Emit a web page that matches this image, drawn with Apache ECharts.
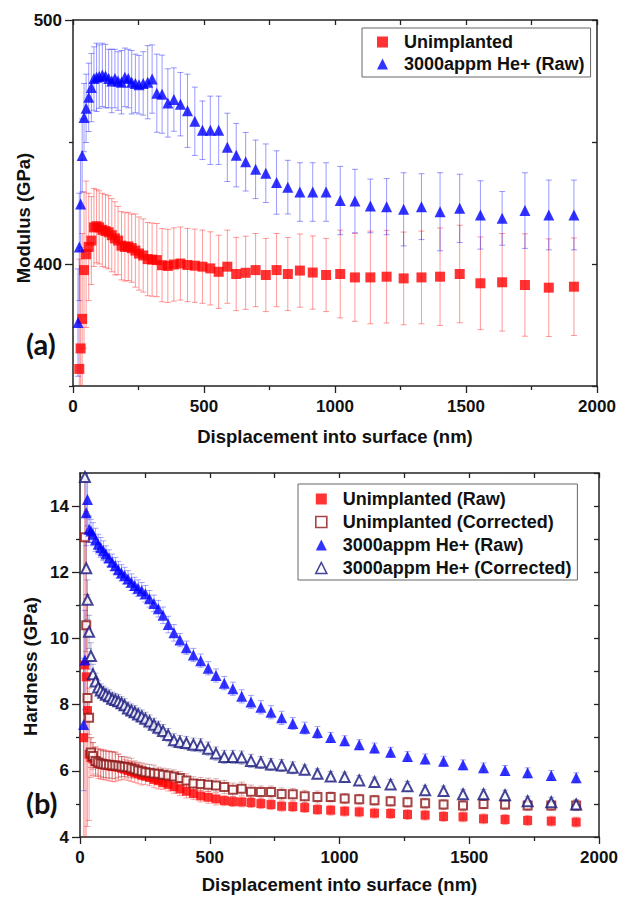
<!DOCTYPE html>
<html>
<head>
<meta charset="utf-8">
<script src="https://cdn.jsdelivr.net/npm/echarts@6/dist/echarts.min.js"></script>
<style>
  html, body { margin: 0; padding: 0; background: #fff; }
  #chart { width: 630px; height: 897px; }
</style>
</head>
<body>
<div id="chart"></div>
<script>
  // depth grid (nm), shared by every series
  var depth = [14, 19, 24, 29, 35, 42, 50, 60, 70, 80,
    90, 100, 112, 124, 136, 148, 160, 172, 185, 198,
    211, 224, 238, 252, 268, 285, 302, 320, 340, 362,
    385, 410, 437, 465, 494, 524, 556, 589, 623, 659,
    697, 736, 777, 820, 866, 915, 966, 1020, 1076, 1135,
    1197, 1262, 1330, 1401, 1476, 1555, 1638, 1725, 1816, 1912];

  // (a) modulus, GPa
  var modUnimp = [null, null, 357, 365.4, 377.5, 397.5, 404, 407, 409.6, 415,
    415.5, 415, 414, 413.5, 413, 411.8, 410.5, 409.6, 407.5, 407,
    407.2, 406.5, 405.5, 404.3, 403.5, 402, 401.8, 401.6, 399.5, 399.2,
    399.8, 400.2, 399.6, 399.3, 398.9, 398.2, 396.8, 398.9, 395.9, 396.4,
    397.5, 395.5, 397.5, 395.9, 397.3, 396.5, 395.5, 395.9, 394.5, 394.5,
    394.8, 394.1, 394.5, 394.8, 395.9, 392.1, 392.5, 391.4, 390.3, 390.7];
  var modUnimpErr = [null, null, 45, 40, 35, 32, 30, 22, 18, 16,
    15, 15, 15, 15, 15, 15, 15, 14, 14, 14,
    14, 14, 15, 15, 15, 15, 15, 15, 15, 15,
    15, 15, 15, 15, 15, 15, 15, 15, 15, 15,
    15, 15, 15, 15, 15, 15, 15, 18, 18, 19,
    19, 19, 19, 20, 20, 19, 20, 21, 20, 20];
  var modHe = [null, 376, 407, 424.6, 444.5, 460, 463.8, 468.3, 472.3, 476,
    476.5, 476.8, 477.5, 477, 476, 475, 476, 475, 474.5, 476.5,
    476, 474.5, 474, 473.5, 474, 474.5, 475.8, 470, 469.6, 466,
    467.4, 465.5, 462.8, 458.5, 454.8, 454.8, 454.8, 447.8, 444.6, 441.9,
    438.8, 437.2, 433.4, 431.5, 429.5, 429.5, 429.5, 426, 425.8, 423.8,
    423.5, 422.4, 423.5, 421.4, 422.8, 420.1, 418.7, 421.9, 420.1, 420.1];
  var modHeErr = [null, 22, 22, 18, 15, 14, 14, 14, 14, 13,
    14, 13, 13, 13, 12, 13, 12, 12, 13, 12,
    12, 13, 12, 12, 13, 15, 14, 16, 16, 14,
    13, 13, 15, 14, 12, 14, 14, 14, 13, 12,
    12, 12, 13, 11, 12, 12, 12, 14, 13, 11,
    11.5, 15, 13.5, 16, 14, 14, 11, 15.5, 14.3, 14.3];

  // (b) hardness, GPa
  var hardUnimpRaw = [7.0, 9.2, 8.84, 7.82, 6.5, 6.4, 6.36, 6.28, 6.22, 6.2,
    6.19, 6.17, 6.15, 6.13, 6.12, 6.11, 6.08, 6.05, 6.01, 5.98,
    5.95, 5.91, 5.87, 5.84, 5.8, 5.74, 5.7, 5.64, 5.59, 5.52,
    5.45, 5.38, 5.31, 5.24, 5.2, 5.15, 5.1, 5.07, 5.06, 5.04,
    5.01, 4.98, 4.93, 4.92, 4.89, 4.83, 4.81, 4.78, 4.76, 4.72,
    4.71, 4.68, 4.66, 4.62, 4.61, 4.55, 4.53, 4.5, 4.48, 4.45];
  var hardUnimpRawErr = [6, 6, 5, 3.5, 2, 0.6, 0.5, 0.45, 0.45, 0.45,
    0.45, 0.45, 0.45, 0.45, 0.45, 0.4, 0.35, 0.3, 0.3, 0.3,
    0.3, 0.3, 0.3, 0.25, 0.25, 0.25, 0.25, 0.2, 0.2, 0.2,
    0.2, 0.2, 0.18, 0.18, 0.18, 0.18, 0.15, 0.15, 0.15, 0.15,
    0.15, 0.15, 0.15, 0.15, 0.15, 0.15, 0.15, 0.15, 0.15, 0.15,
    0.15, 0.15, 0.15, 0.15, 0.15, 0.15, 0.15, 0.15, 0.15, 0.15];
  var hardUnimpCorr = [null, 13.06, 10.4, 8.2, 7.6, 6.55, 6.45, 6.3, 6.25, 6.22,
    6.2, 6.19, 6.18, 6.17, 6.16, 6.15, 6.13, 6.12, 6.11, 6.08,
    6.05, 6.01, 5.99, 5.96, 5.94, 5.92, 5.91, 5.88, 5.86, 5.83,
    5.78, 5.71, 5.62, 5.6, 5.58, 5.56, 5.51, 5.43, 5.46, 5.37,
    5.36, 5.36, 5.3, 5.29, 5.23, 5.21, 5.21, 5.16, 5.14, 5.11,
    5.08, 5.05, 5.02, 4.98, 4.95, 5.0, 4.98, 4.95, 4.95, 4.95];
  var hardUnimpCorrErr = [null, 1, 0.8, 0.6, 0.5, 0.45, 0.4, 0.4, 0.4, 0.4,
    0.4, 0.4, 0.4, 0.4, 0.4, 0.35, 0.3, 0.3, 0.3, 0.3,
    0.25, 0.25, 0.25, 0.25, 0.25, 0.25, 0.2, 0.2, 0.2, 0.2,
    0.2, 0.2, 0.2, 0.2, 0.2, 0.2, 0.2, 0.2, 0.2, 0.2,
    0.18, 0.18, 0.18, 0.18, 0.18, 0.18, 0.15, 0.15, 0.15, 0.15,
    0.15, 0.15, 0.15, 0.15, 0.15, 0.15, 0.15, 0.15, 0.15, 0.15];
  var hardHeRaw = [7.4, 9.35, 13.8, 14.2, 13.3, 13.25, 13.15, 12.98, 12.85, 12.75,
    12.65, 12.55, 12.43, 12.3, 12.2, 12.08, 11.98, 11.9, 11.8, 11.7,
    11.6, 11.52, 11.44, 11.35, 11.2, 11.06, 10.9, 10.7, 10.42, 10.17,
    9.95, 9.72, 9.5, 9.33, 9.1, 8.88, 8.65, 8.48, 8.25, 8.08,
    7.92, 7.77, 7.6, 7.43, 7.29, 7.16, 7.01, 6.91, 6.79, 6.69,
    6.56, 6.43, 6.36, 6.29, 6.18, 6.09, 6.01, 5.94, 5.86, 5.79];
  var hardHeRawErr = [2, 1.5, 1, 0.8, 0.4, 0.35, 0.35, 0.35, 0.3, 0.3,
    0.3, 0.25, 0.25, 0.25, 0.25, 0.25, 0.25, 0.25, 0.25, 0.25,
    0.25, 0.25, 0.25, 0.25, 0.25, 0.25, 0.25, 0.25, 0.25, 0.25,
    0.2, 0.2, 0.2, 0.2, 0.2, 0.2, 0.2, 0.2, 0.2, 0.2,
    0.2, 0.2, 0.2, 0.18, 0.18, 0.18, 0.15, 0.15, 0.15, 0.15,
    0.15, 0.15, 0.15, 0.15, 0.15, 0.15, 0.15, 0.15, 0.15, 0.15];
  var hardHeCorr = [null, 14.88, 12.12, 11.17, 10.2, 9.47, 8.92, 8.7, 8.52, 8.43,
    8.36, 8.3, 8.25, 8.18, 8.14, 8.1, 8.04, 7.98, 7.88, 7.82,
    7.77, 7.7, 7.64, 7.57, 7.49, 7.39, 7.3, 7.2, 7.08, 6.92,
    6.87, 6.84, 6.79, 6.77, 6.67, 6.52, 6.42, 6.42, 6.4, 6.3,
    6.25, 6.19, 6.16, 6.09, 6.03, 5.91, 5.83, 5.81, 5.71, 5.66,
    5.59, 5.53, 5.41, 5.39, 5.29, 5.29, 5.26, 5.08, 5.05, 4.98];
  var hardHeCorrErr = [null, 1.2, 0.8, 0.6, 0.5, 0.4, 0.3, 0.25, 0.2, 0.2,
    0.2, 0.2, 0.2, 0.2, 0.2, 0.2, 0.2, 0.2, 0.2, 0.2,
    0.2, 0.2, 0.2, 0.2, 0.2, 0.2, 0.2, 0.2, 0.2, 0.2,
    0.2, 0.2, 0.2, 0.2, 0.2, 0.2, 0.2, 0.2, 0.2, 0.2,
    0.18, 0.18, 0.18, 0.18, 0.15, 0.15, 0.15, 0.15, 0.15, 0.15,
    0.15, 0.15, 0.15, 0.15, 0.15, 0.15, 0.15, 0.15, 0.15, 0.15];

  // labelled (major) and unlabelled (minor) y ticks
  var modMajor = [400, 500], modMinor = [350, 450];
  var hardMajor = [4, 6, 8, 10, 12, 14], hardMinor = [5, 7, 9, 11, 13];

  var FONT = 'Liberation Sans';
  var RED = '#ff0000', BLUE = '#0000ff', DARKRED = '#8e1616', NAVY = '#16167e';

  function points(vals) {
    var out = [];
    depth.forEach(function (d, i) { if (vals[i] != null) out.push([d, vals[i]]); });
    return out;
  }
  function bars(vals, errs) {
    var out = [];
    depth.forEach(function (d, i) {
      if (vals[i] != null) out.push([d, vals[i] - errs[i], vals[i] + errs[i]]);
    });
    return out;
  }
  // vertical error bar with small caps
  function renderErr(params, api) {
    var x = api.value(0);
    var lo = api.coord([x, api.value(1)]);
    var hi = api.coord([x, api.value(2)]);
    var w = 3;
    var st = { stroke: api.visual('color'), lineWidth: 1 };
    return {
      type: 'group',
      children: [
        { type: 'line', shape: { x1: lo[0], y1: lo[1], x2: hi[0], y2: hi[1] }, style: st },
        { type: 'line', shape: { x1: lo[0] - w, y1: lo[1], x2: lo[0] + w, y2: lo[1] }, style: st },
        { type: 'line', shape: { x1: hi[0] - w, y1: hi[1], x2: hi[0] + w, y2: hi[1] }, style: st }
      ]
    };
  }
  function errSeries(xi, yi, vals, errs, color) {
    return {
      type: 'custom', xAxisIndex: xi, yAxisIndex: yi, clip: true,
      renderItem: renderErr, itemStyle: { color: color }, silent: true,
      encode: { x: 0, y: [1, 2] }, data: bars(vals, errs), z: 1
    };
  }
  function dotSeries(xi, yi, name, vals, symbol, size, color) {
    return {
      name: name, type: 'scatter', xAxisIndex: xi, yAxisIndex: yi,
      symbol: symbol, symbolSize: size, itemStyle: { color: color, borderWidth: 1.6 },
      data: points(vals), z: 3
    };
  }

  var axisLine = { show: true, onZero: false, lineStyle: { color: '#222', width: 1.5 } };
  var tickStyle = { color: '#222', width: 1.3 };
  var label = { color: '#111', fontFamily: FONT, fontWeight: 'bold', fontSize: 17 };
  var title = { color: '#111', fontFamily: FONT, fontWeight: 'bold', fontSize: 18.5 };

  function xAxes(grid, gap) {
    return [{
      gridIndex: grid, type: 'value', min: 0, max: 2000, interval: 500, position: 'bottom',
      axisLine: axisLine, axisTick: { length: 7, lineStyle: tickStyle },
      minorTick: { show: true, splitNumber: 2, length: 4, lineStyle: tickStyle },
      axisLabel: Object.assign({ margin: 12, formatter: function (v) { return String(v); } }, label),
      splitLine: { show: false },
      name: 'Displacement into surface (nm)', nameLocation: 'middle', nameGap: gap,
      nameMoveOverlap: false, nameTextStyle: title
    }, {
      gridIndex: grid, type: 'value', min: 0, max: 2000, interval: 250, position: 'top',
      axisLine: axisLine, axisTick: { inside: true, length: 5, lineStyle: tickStyle },
      axisLabel: { show: false }, splitLine: { show: false }
    }];
  }
  function yAxes(grid, min, max, step, major, minor, name, gap, pad) {
    return [{
      gridIndex: grid, type: 'value', min: min, max: max, position: 'left',
      axisLine: axisLine,
      axisTick: { length: 8, customValues: major, lineStyle: tickStyle },
      axisLabel: Object.assign({ margin: 11, customValues: major, formatter: function (v) { return String(v); } }, label),
      splitLine: { show: false },
      name: name, nameLocation: 'middle', nameGap: gap, nameMoveOverlap: false,
      nameTextStyle: Object.assign({ padding: pad }, title)
    }, {
      gridIndex: grid, type: 'value', min: min, max: max, position: 'left',
      axisLine: { show: false, onZero: false },
      axisTick: { length: 4, customValues: minor, lineStyle: tickStyle },
      axisLabel: { show: false }, splitLine: { show: false }
    }, {
      gridIndex: grid, type: 'value', min: min, max: max, interval: step, position: 'right',
      axisLine: axisLine, axisTick: { inside: true, length: 5, lineStyle: tickStyle },
      axisLabel: { show: false }, splitLine: { show: false }
    }];
  }

  var legendText = { color: '#111', fontFamily: FONT, fontWeight: 'bold', fontSize: 18, padding: [0, 0, 0, 11] };

  var chart = echarts.init(document.getElementById('chart'), null, { renderer: 'svg' });
  chart.setOption({
    animation: false,
    backgroundColor: '#fff',
    grid: [
      { left: 73, top: 20, width: 524, height: 366 },
      { left: 80, top: 473, width: 519, height: 364 }
    ],
    xAxis: xAxes(0, 41).concat(xAxes(1, 38)),
    yAxis: yAxes(0, 350, 500, 50, modMajor, modMinor, 'Modulus (GPa)', 40, [0, 30, 0, 0])
      .concat(yAxes(1, 4, 15, 1, hardMajor, hardMinor, 'Hardness (GPa)', 40, [0, 23, 0, 0])),
    legend: [{
      left: 362, top: 28, orient: 'vertical', itemGap: 4, itemWidth: 11, itemHeight: 11,
      padding: [5, 6, 4, 15], borderColor: '#666', borderWidth: 1,
      textStyle: legendText,
      data: [
        { name: 'Unimplanted', icon: 'rect' },
        { name: '3000appm He+ (Raw)', icon: 'triangle' }
      ]
    }, {
      left: 298, top: 484, orient: 'vertical', itemGap: 5, itemWidth: 11, itemHeight: 11,
      padding: [6, 6, 3, 17], borderColor: '#666', borderWidth: 1,
      textStyle: legendText,
      data: [
        { name: 'Unimplanted (Raw)', icon: 'rect' },
        { name: 'Unimplanted (Corrected)', icon: 'rect', itemStyle: { color: '#fff', borderColor: DARKRED, borderWidth: 1.6 } },
        { name: '3000appm He+ (Raw)', icon: 'triangle' },
        { name: '3000appm He+ (Corrected)', icon: 'triangle', itemStyle: { color: '#fff', borderColor: NAVY, borderWidth: 1.6 } }
      ]
    }],
    graphic: [
      { type: 'text', left: 26, top: 329, style: { text: '(a)', font: 'bold 29px Lato', fill: '#111' } },
      { type: 'text', left: 26, top: 788, style: { text: '(b)', font: 'bold 29px Lato', fill: '#111' } }
    ],
    series: [
      errSeries(0, 0, modUnimp, modUnimpErr, 'rgba(255,0,0,0.4)'),
      errSeries(0, 0, modHe, modHeErr, 'rgba(0,0,255,0.4)'),
      dotSeries(0, 0, 'Unimplanted', modUnimp, 'rect', 10, RED),
      dotSeries(0, 0, '3000appm He+ (Raw)', modHe, 'triangle', 11, BLUE),

      errSeries(2, 3, hardUnimpRaw, hardUnimpRawErr, 'rgba(255,0,0,0.35)'),
      errSeries(2, 3, hardUnimpCorr, hardUnimpCorrErr, 'rgba(160,30,30,0.35)'),
      errSeries(2, 3, hardHeRaw, hardHeRawErr, 'rgba(0,0,255,0.35)'),
      errSeries(2, 3, hardHeCorr, hardHeCorrErr, 'rgba(30,30,140,0.35)'),
      dotSeries(2, 3, 'Unimplanted (Raw)', hardUnimpRaw, 'rect', 9, RED),
      dotSeries(2, 3, 'Unimplanted (Corrected)', hardUnimpCorr, 'emptyRect', 8, DARKRED),
      dotSeries(2, 3, '3000appm He+ (Raw)', hardHeRaw, 'triangle', 11, BLUE),
      dotSeries(2, 3, '3000appm He+ (Corrected)', hardHeCorr, 'emptyTriangle', 10, NAVY)
    ]
  });
</script>
</body>
</html>
